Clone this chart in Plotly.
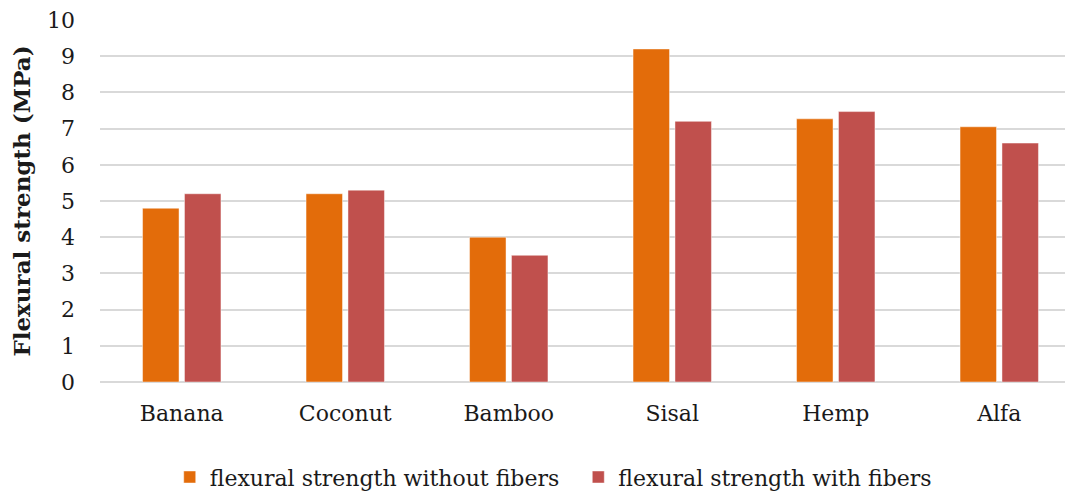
import plotly.graph_objects as go

fibers = ["Banana", "Coconut", "Bamboo", "Sisal", "Hemp", "Alfa"]
without_fibers = [4.8, 5.2, 4.0, 9.2, 7.27, 7.05]
with_fibers = [5.2, 5.3, 3.5, 7.2, 7.47, 6.6]

FONT = "DejaVu Serif"

fig = go.Figure()
fig.add_trace(go.Bar(
    x=fibers,
    y=without_fibers,
    name="flexural strength without fibers\u00a0\u00a0",
    marker=dict(color="#E36C0A", line=dict(color="rgba(255,255,255,0.45)", width=1)),
))
fig.add_trace(go.Bar(
    x=fibers,
    y=with_fibers,
    name="flexural strength with fibers",
    marker=dict(color="#C0504D", line=dict(color="rgba(255,255,255,0.45)", width=1)),
))

# page is drawn with an 8px body margin, so margins are offset by it
fig.update_layout(
    width=1073,
    height=495,
    margin=dict(l=92, r=0, t=10, b=121),
    plot_bgcolor="white",
    paper_bgcolor="white",
    barmode="group",
    bargap=0.487,
    bargroupgap=0.13,
    font=dict(family=FONT, size=22, color="#1a1a1a"),
    legend=dict(
        orientation="h",
        x=0.462,
        xanchor="center",
        y=-0.205,
        yanchor="top",
        font=dict(family=FONT, size=22),
        itemwidth=30,
        traceorder="normal",
    ),
    showlegend=True,
)
fig.update_xaxes(
    range=[-0.5, 5.5],
    showgrid=False,
    showline=False,
    ticks="",
    ticklabelstandoff=16,
    tickfont=dict(family=FONT, size=22),
)
fig.update_yaxes(
    range=[0, 10],
    dtick=1,
    showgrid=True,
    gridcolor="#D9D9D9",
    gridwidth=1.5,
    zeroline=True,
    zerolinecolor="#D9D9D9",
    zerolinewidth=1.5,
    showline=False,
    ticks="",
    ticklabelstandoff=24,
    ticklabeloverflow="allow",
    tickfont=dict(family=FONT, size=22),
    title=dict(text="<b>Flexural strength (MPa)</b>", font=dict(family=FONT, size=23), standoff=18),
)

fig.write_html("out.html")
